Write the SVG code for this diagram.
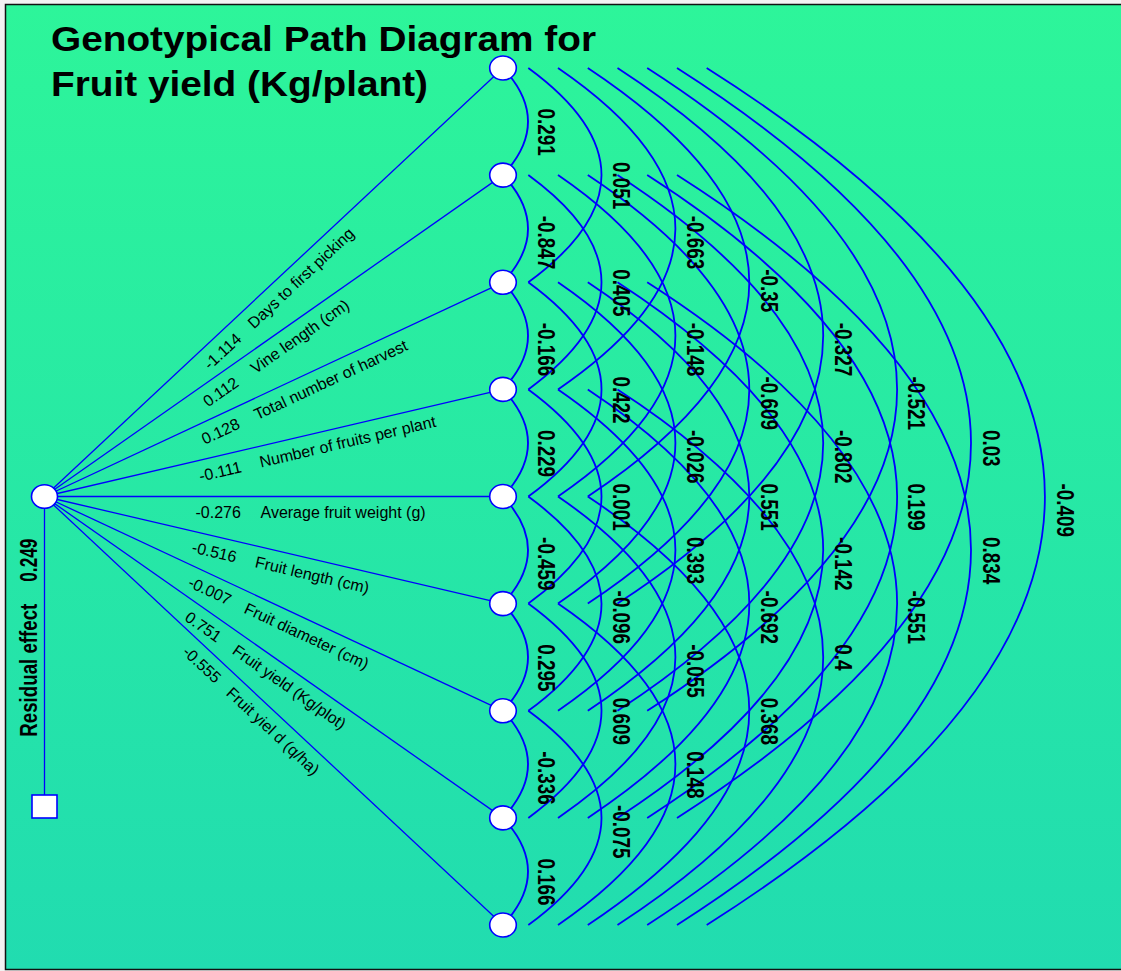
<svg xmlns="http://www.w3.org/2000/svg" width="1121" height="971" viewBox="0 0 1121 971">
<defs>
<linearGradient id="bg" x1="0" y1="0" x2="0" y2="1">
<stop offset="0" stop-color="#2df59a"/>
<stop offset="1" stop-color="#21dcb0"/>
</linearGradient>
<style>
.fan{stroke:#0000ff;stroke-width:1.3;fill:none}
.arc{stroke:#0000ff;stroke-width:1.8;fill:none}
.node{fill:#ffffff;stroke:#0000ff;stroke-width:1.6}
.al{font-family:"Liberation Sans",Arial,sans-serif;font-weight:bold;font-size:23px;fill:#000}
.ll{font-family:"Liberation Sans",Arial,sans-serif;font-size:16px;fill:#000}
.title{font-family:"Liberation Sans",Arial,sans-serif;font-weight:bold;font-size:34.5px;fill:#000}
</style>
</defs>
<rect x="0" y="0" width="1121" height="971" fill="#f2f2f2"/>
<rect x="5.5" y="4.5" width="1120" height="965" fill="url(#bg)" stroke="#111" stroke-width="1.5"/>
<g id="title">
<text class="title" x="51" y="51" textLength="545" lengthAdjust="spacingAndGlyphs">Genotypical Path Diagram for</text>
<text class="title" x="51" y="96" textLength="377" lengthAdjust="spacingAndGlyphs">Fruit yield (Kg/plant)</text>
</g>
<g id="connectors">
<line class="fan" x1="44.5" y1="496.5" x2="503" y2="68"/>
<line class="fan" x1="44.5" y1="496.5" x2="503" y2="175.1"/>
<line class="fan" x1="44.5" y1="496.5" x2="503" y2="282.3"/>
<line class="fan" x1="44.5" y1="496.5" x2="503" y2="389.4"/>
<line class="fan" x1="44.5" y1="496.5" x2="503" y2="496.5"/>
<line class="fan" x1="44.5" y1="496.5" x2="503" y2="603.6"/>
<line class="fan" x1="44.5" y1="496.5" x2="503" y2="710.8"/>
<line class="fan" x1="44.5" y1="496.5" x2="503" y2="817.9"/>
<line class="fan" x1="44.5" y1="496.5" x2="503" y2="925"/>
<line class="fan" x1="44.5" y1="496.5" x2="44.5" y2="795"/>
<path class="arc" d="M503,68 Q553,121.6 503,175.1"/>
<path class="arc" d="M503,175.1 Q553,228.7 503,282.3"/>
<path class="arc" d="M503,282.3 Q553,335.8 503,389.4"/>
<path class="arc" d="M503,389.4 Q553,442.9 503,496.5"/>
<path class="arc" d="M503,496.5 Q553,550.1 503,603.6"/>
<path class="arc" d="M503,603.6 Q553,657.2 503,710.8"/>
<path class="arc" d="M503,710.8 Q553,764.3 503,817.9"/>
<path class="arc" d="M503,817.9 Q553,871.4 503,925"/>
<path class="arc" d="M528.3,68 Q674.7,175.1 528.3,282.3"/>
<path class="arc" d="M528.3,175.1 Q674.7,282.3 528.3,389.4"/>
<path class="arc" d="M528.3,282.3 Q674.7,389.4 528.3,496.5"/>
<path class="arc" d="M528.3,389.4 Q674.7,496.5 528.3,603.6"/>
<path class="arc" d="M528.3,496.5 Q674.7,603.6 528.3,710.8"/>
<path class="arc" d="M528.3,603.6 Q674.7,710.8 528.3,817.9"/>
<path class="arc" d="M528.3,710.8 Q674.7,817.9 528.3,925"/>
<path class="arc" d="M558,68 Q792.8,228.7 558,389.4"/>
<path class="arc" d="M558,175.1 Q792.8,335.8 558,496.5"/>
<path class="arc" d="M558,282.3 Q792.8,442.9 558,603.6"/>
<path class="arc" d="M558,389.4 Q792.8,550.1 558,710.8"/>
<path class="arc" d="M558,496.5 Q792.8,657.2 558,817.9"/>
<path class="arc" d="M558,603.6 Q792.8,764.3 558,925"/>
<path class="arc" d="M587.8,68 Q910.8,282.3 587.8,496.5"/>
<path class="arc" d="M587.8,175.1 Q910.8,389.4 587.8,603.6"/>
<path class="arc" d="M587.8,282.3 Q910.8,496.5 587.8,710.8"/>
<path class="arc" d="M587.8,389.4 Q910.8,603.6 587.8,817.9"/>
<path class="arc" d="M587.8,496.5 Q910.8,710.8 587.8,925"/>
<path class="arc" d="M617.5,68 Q1028.9,335.8 617.5,603.6"/>
<path class="arc" d="M617.5,175.1 Q1028.9,442.9 617.5,710.8"/>
<path class="arc" d="M617.5,282.3 Q1028.9,550.1 617.5,817.9"/>
<path class="arc" d="M617.5,389.4 Q1028.9,657.2 617.5,925"/>
<path class="arc" d="M647.2,68 Q1147,389.4 647.2,710.8"/>
<path class="arc" d="M647.2,175.1 Q1147,496.5 647.2,817.9"/>
<path class="arc" d="M647.2,282.3 Q1147,603.6 647.2,925"/>
<path class="arc" d="M677,68 Q1265,442.9 677,817.9"/>
<path class="arc" d="M677,175.1 Q1265,550.1 677,925"/>
<path class="arc" d="M706.7,68 Q1383.1,496.5 706.7,925"/>
</g>
<g id="node-residual"><rect class="node" x="32" y="795" width="25" height="23"/></g>
<g id="node-root"><ellipse class="node" cx="44.5" cy="496.5" rx="13" ry="11.8"/></g>
<g id="node-1"><ellipse class="node" cx="503" cy="68" rx="13.3" ry="12"/></g>
<g id="node-2"><ellipse class="node" cx="503" cy="175.1" rx="13.3" ry="12"/></g>
<g id="node-3"><ellipse class="node" cx="503" cy="282.3" rx="13.3" ry="12"/></g>
<g id="node-4"><ellipse class="node" cx="503" cy="389.4" rx="13.3" ry="12"/></g>
<g id="node-5"><ellipse class="node" cx="503" cy="496.5" rx="13.3" ry="12"/></g>
<g id="node-6"><ellipse class="node" cx="503" cy="603.6" rx="13.3" ry="12"/></g>
<g id="node-7"><ellipse class="node" cx="503" cy="710.8" rx="13.3" ry="12"/></g>
<g id="node-8"><ellipse class="node" cx="503" cy="817.9" rx="13.3" ry="12"/></g>
<g id="node-9"><ellipse class="node" cx="503" cy="925" rx="13.3" ry="12"/></g>
<g id="fan-labels">
<text class="ll" transform="translate(210.1,370.4) rotate(-43.06)"><tspan>-1.114</tspan><tspan x="60">Days to first picking</tspan></text>
<text class="ll" transform="translate(207.9,407.6) rotate(-35.03)"><tspan>0.112</tspan><tspan x="58">Vine length (cm)</tspan></text>
<text class="ll" transform="translate(204.7,444.8) rotate(-25.05)"><tspan>0.128</tspan><tspan x="58">Total number of harvest</tspan></text>
<text class="ll" transform="translate(200.6,481.7) rotate(-13.15)"><tspan>-0.111</tspan><tspan x="62">Number of fruits per plant</tspan></text>
<text class="ll" transform="translate(195.5,517.5)"><tspan>-0.276</tspan><tspan x="65">Average fruit weight (g)</tspan></text>
<text class="ll" transform="translate(191,552.3) rotate(13.15)"><tspan>-0.516</tspan><tspan x="65">Fruit length (cm)</tspan></text>
<text class="ll" transform="translate(186.9,586.2) rotate(25.05)"><tspan>-0.007</tspan><tspan x="62">Fruit diameter (cm)</tspan></text>
<text class="ll" transform="translate(183.8,619.8) rotate(35.03)"><tspan>0.751</tspan><tspan x="58">Fruit yield (Kg/plot)</tspan></text>
<text class="ll" transform="translate(181.5,653.2) rotate(43.06)"><tspan>-0.555</tspan><tspan x="60">Fruit yiel d (q/ha)</tspan></text>
</g>
<g id="residual-label">
<text class="al" transform="translate(37,736.7) rotate(-90)" textLength="133" lengthAdjust="spacingAndGlyphs">Residual effect</text>
<text class="al" transform="translate(37,581.7) rotate(-90)" textLength="43" lengthAdjust="spacingAndGlyphs">0.249</text>
</g>
<g id="arc-labels">
<text class="al" transform="translate(538,108.6) rotate(90)" textLength="47.2" lengthAdjust="spacingAndGlyphs">0.291</text>
<text class="al" transform="translate(538,215.7) rotate(90)" textLength="53.5" lengthAdjust="spacingAndGlyphs">-0.847</text>
<text class="al" transform="translate(538,322.8) rotate(90)" textLength="53.5" lengthAdjust="spacingAndGlyphs">-0.166</text>
<text class="al" transform="translate(538,429.9) rotate(90)" textLength="47.2" lengthAdjust="spacingAndGlyphs">0.229</text>
<text class="al" transform="translate(538,537.1) rotate(90)" textLength="53.5" lengthAdjust="spacingAndGlyphs">-0.459</text>
<text class="al" transform="translate(538,644.2) rotate(90)" textLength="47.2" lengthAdjust="spacingAndGlyphs">0.295</text>
<text class="al" transform="translate(538,751.3) rotate(90)" textLength="53.5" lengthAdjust="spacingAndGlyphs">-0.336</text>
<text class="al" transform="translate(538,858.4) rotate(90)" textLength="47.2" lengthAdjust="spacingAndGlyphs">0.166</text>
<text class="al" transform="translate(612.5,162.1) rotate(90)" textLength="47.2" lengthAdjust="spacingAndGlyphs">0.051</text>
<text class="al" transform="translate(612.5,269.3) rotate(90)" textLength="47.2" lengthAdjust="spacingAndGlyphs">0.405</text>
<text class="al" transform="translate(612.5,376.4) rotate(90)" textLength="47.2" lengthAdjust="spacingAndGlyphs">0.422</text>
<text class="al" transform="translate(612.5,483.5) rotate(90)" textLength="47.2" lengthAdjust="spacingAndGlyphs">0.001</text>
<text class="al" transform="translate(612.5,590.6) rotate(90)" textLength="53.5" lengthAdjust="spacingAndGlyphs">-0.096</text>
<text class="al" transform="translate(612.5,697.8) rotate(90)" textLength="47.2" lengthAdjust="spacingAndGlyphs">0.609</text>
<text class="al" transform="translate(612.5,804.9) rotate(90)" textLength="53.5" lengthAdjust="spacingAndGlyphs">-0.075</text>
<text class="al" transform="translate(686.5,215.7) rotate(90)" textLength="53.5" lengthAdjust="spacingAndGlyphs">-0.663</text>
<text class="al" transform="translate(686.5,322.8) rotate(90)" textLength="53.5" lengthAdjust="spacingAndGlyphs">-0.148</text>
<text class="al" transform="translate(686.5,429.9) rotate(90)" textLength="53.5" lengthAdjust="spacingAndGlyphs">-0.026</text>
<text class="al" transform="translate(686.5,537.1) rotate(90)" textLength="47.2" lengthAdjust="spacingAndGlyphs">0.393</text>
<text class="al" transform="translate(686.5,644.2) rotate(90)" textLength="53.5" lengthAdjust="spacingAndGlyphs">-0.055</text>
<text class="al" transform="translate(686.5,751.3) rotate(90)" textLength="47.2" lengthAdjust="spacingAndGlyphs">0.148</text>
<text class="al" transform="translate(760.5,269.3) rotate(90)" textLength="43" lengthAdjust="spacingAndGlyphs">-0.35</text>
<text class="al" transform="translate(760.5,376.4) rotate(90)" textLength="53.5" lengthAdjust="spacingAndGlyphs">-0.609</text>
<text class="al" transform="translate(760.5,483.5) rotate(90)" textLength="47.2" lengthAdjust="spacingAndGlyphs">0.551</text>
<text class="al" transform="translate(760.5,590.6) rotate(90)" textLength="53.5" lengthAdjust="spacingAndGlyphs">-0.692</text>
<text class="al" transform="translate(760.5,697.8) rotate(90)" textLength="47.2" lengthAdjust="spacingAndGlyphs">0.368</text>
<text class="al" transform="translate(834.5,322.8) rotate(90)" textLength="53.5" lengthAdjust="spacingAndGlyphs">-0.327</text>
<text class="al" transform="translate(834.5,429.9) rotate(90)" textLength="53.5" lengthAdjust="spacingAndGlyphs">-0.802</text>
<text class="al" transform="translate(834.5,537.1) rotate(90)" textLength="53.5" lengthAdjust="spacingAndGlyphs">-0.142</text>
<text class="al" transform="translate(834.5,644.2) rotate(90)" textLength="26.2" lengthAdjust="spacingAndGlyphs">0.4</text>
<text class="al" transform="translate(908.3,376.4) rotate(90)" textLength="53.5" lengthAdjust="spacingAndGlyphs">-0.521</text>
<text class="al" transform="translate(908.3,483.5) rotate(90)" textLength="47.2" lengthAdjust="spacingAndGlyphs">0.199</text>
<text class="al" transform="translate(908.3,590.6) rotate(90)" textLength="53.5" lengthAdjust="spacingAndGlyphs">-0.551</text>
<text class="al" transform="translate(982.5,429.9) rotate(90)" textLength="36.7" lengthAdjust="spacingAndGlyphs">0.03</text>
<text class="al" transform="translate(982.5,537.1) rotate(90)" textLength="47.2" lengthAdjust="spacingAndGlyphs">0.834</text>
<text class="al" transform="translate(1057,483.5) rotate(90)" textLength="53.5" lengthAdjust="spacingAndGlyphs">-0.409</text>
</g>
</svg>
